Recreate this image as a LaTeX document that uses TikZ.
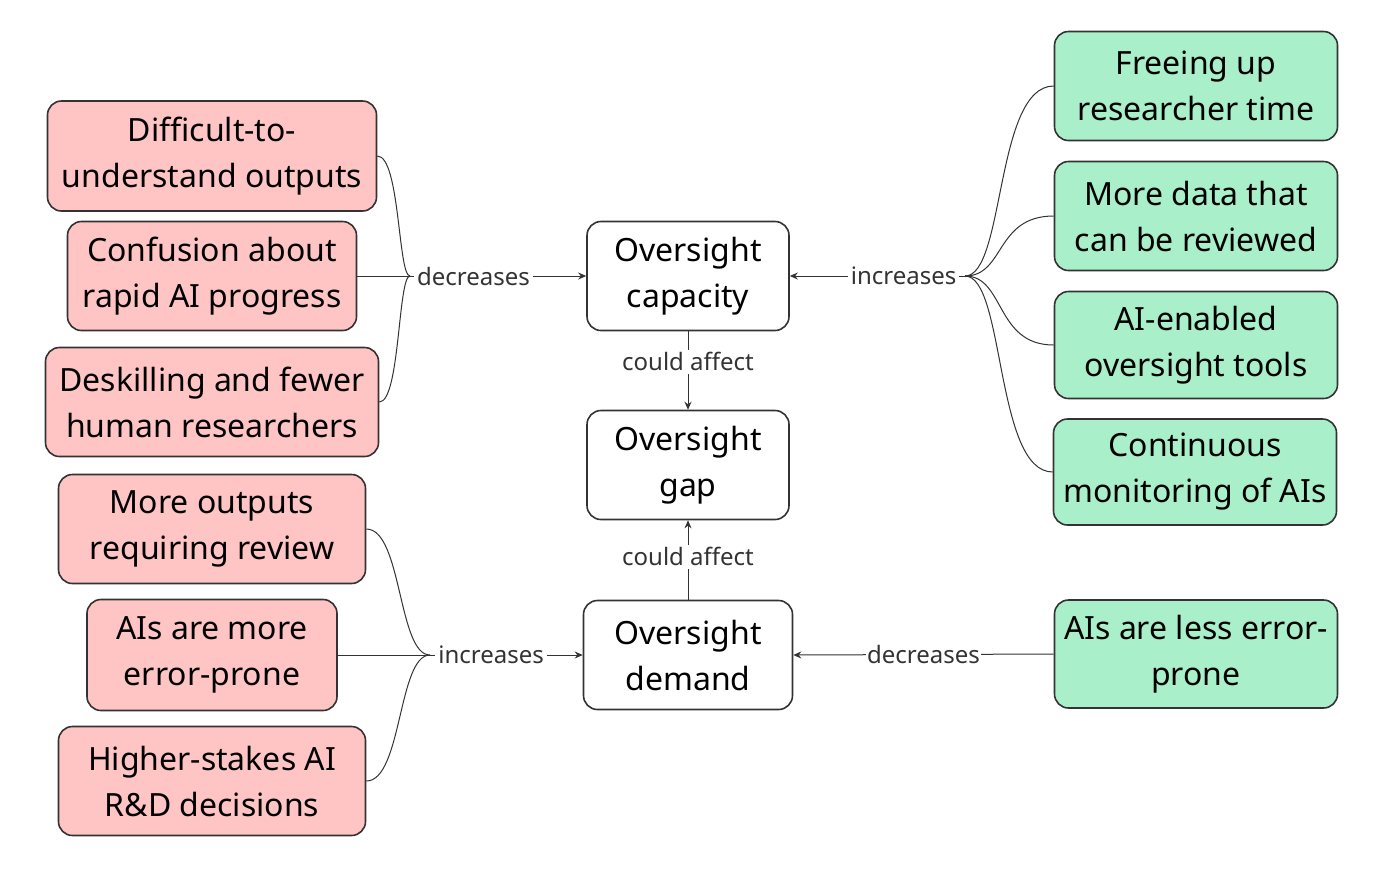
\documentclass[tikz,border=0pt]{standalone}
\usepackage{fontspec}
\setmainfont{Noto Sans}
\usetikzlibrary{arrows.meta}
\definecolor{redf}{HTML}{FFC5C5}
\definecolor{greenf}{HTML}{A9EFC9}
\definecolor{edge}{HTML}{333333}
\begin{document}
\begin{tikzpicture}[x=0.5pt,y=-0.5pt,
  box/.style={draw=edge,line width=0.8pt,rounded corners=7pt,align=center,font=\fontsize{16}{23}\selectfont,inner sep=0pt},
  redbox/.style={box,fill=redf},
  greenbox/.style={box,fill=greenf},
  whitebox/.style={box,fill=white},
  conn/.style={draw=edge,line width=0.5pt},
  arr/.style={conn,-{Stealth[length=4pt,width=3.5pt]}},
  lab/.style={fill=white,font=\fontsize{12}{14}\selectfont,text=edge,inner sep=1.5pt}]
\useasboundingbox (0,0) rectangle (1400,879);
\node[redbox,minimum width=164.5pt,minimum height=55pt] (a) at (212,156) {Difficult-to-\\understand outputs};
\node[redbox,minimum width=144.5pt,minimum height=54.5pt] (b) at (212,276) {Confusion about\\rapid AI progress};
\node[redbox,minimum width=166.5pt,minimum height=54.5pt] (c) at (212,402) {Deskilling and fewer\\human researchers};
\node[redbox,minimum width=153.5pt,minimum height=54.5pt] (d) at (212,529) {More outputs\\requiring review};
\node[redbox,minimum width=125pt,minimum height=55.5pt] (e) at (212,655) {AIs are more\\error-prone};
\node[redbox,minimum width=153.5pt,minimum height=54.5pt] (f) at (212,781) {Higher-stakes AI\\R\&D decisions};
\node[whitebox,minimum width=101pt,minimum height=54.5pt] (cap) at (688,276) {Oversight\\capacity};
\node[whitebox,minimum width=101pt,minimum height=54.5pt] (gap) at (688,465) {Oversight\\gap};
\node[whitebox,minimum width=104.5pt,minimum height=54.5pt] (dem) at (688,655) {Oversight\\demand};
\node[greenbox,minimum width=141.5pt,minimum height=54.5pt] (g1) at (1196,86) {Freeing up\\researcher time};
\node[greenbox,minimum width=141.5pt,minimum height=54.5pt] (g2) at (1196,216) {More data that\\can be reviewed};
\node[greenbox,minimum width=141.5pt,minimum height=53.5pt] (g3) at (1196,345) {AI-enabled\\oversight tools};
\node[greenbox,minimum width=141.5pt,minimum height=53pt] (g4) at (1195,472) {Continuous\\monitoring of AIs};
\node[greenbox,minimum width=141.5pt,minimum height=54pt] (g5) at (1196,654) {AIs are less error-\\prone};
\coordinate (jl) at (410,276);
\coordinate (jr) at (965,276);
\coordinate (jb) at (430,655);
\draw[conn] (a.east) .. controls (400,156) and (398,276) .. (jl);
\draw[conn] (c.east) .. controls (400,402) and (398,276) .. (jl);
\draw[conn] (b.east) -- (jl);
\draw[arr] (jl) -- node[lab,pos=0.36]{decreases} (cap.west);
\draw[conn] (d.east) .. controls (402,529) and (398,655) .. (jb);
\draw[conn] (f.east) .. controls (402,781) and (398,655) .. (jb);
\draw[conn] (e.east) -- (jb);
\draw[arr] (jb) -- node[lab,pos=0.4]{increases} (dem.west);
\draw[conn] (jr) .. controls (1005,276) and (995,86) .. (g1.west);
\draw[conn] (jr) .. controls (1005,276) and (995,216) .. (g2.west);
\draw[conn] (jr) .. controls (1005,276) and (995,345) .. (g3.west);
\draw[conn] (jr) .. controls (1005,276) and (995,472) .. (g4.west);
\draw[arr] (jr) -- node[lab,pos=0.35]{increases} (cap.east);
\draw[arr] (cap.south) -- node[lab,pos=0.39]{could affect} (gap.north);
\draw[arr] (dem.north) -- node[lab,pos=0.54]{could affect} (gap.south);
\draw[arr] (g5.west) -- node[lab,pos=0.5,inner sep=0.5pt]{decreases} (dem.east);
\end{tikzpicture}
\end{document}
